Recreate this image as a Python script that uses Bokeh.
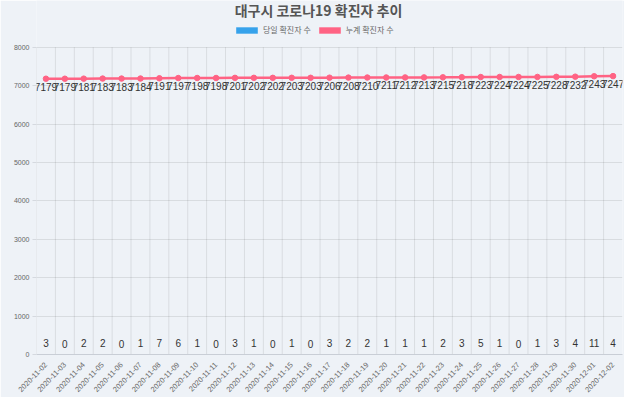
import math
from bokeh.plotting import figure
from bokeh.models import (ColumnDataSource, FixedTicker, Legend, LegendItem,
                          Label, Range1d)
from bokeh.core.properties import value
from bokeh.embed import file_html
from bokeh.resources import INLINE

# ---- data ----
dates = [
    "2020-11-02", "2020-11-03", "2020-11-04", "2020-11-05", "2020-11-06",
    "2020-11-07", "2020-11-08", "2020-11-09", "2020-11-10", "2020-11-11",
    "2020-11-12", "2020-11-13", "2020-11-14", "2020-11-15", "2020-11-16",
    "2020-11-17", "2020-11-18", "2020-11-19", "2020-11-20", "2020-11-21",
    "2020-11-22", "2020-11-23", "2020-11-24", "2020-11-25", "2020-11-26",
    "2020-11-27", "2020-11-28", "2020-11-29", "2020-11-30", "2020-12-01",
    "2020-12-02",
]
daily = [3, 0, 2, 2, 0, 1, 7, 6, 1, 0, 3, 1, 0, 1, 0, 3, 2, 2, 1, 1,
         1, 2, 3, 5, 1, 0, 1, 3, 4, 11, 4]
cumulative = [7179, 7179, 7181, 7183, 7183, 7184, 7191, 7197, 7198, 7198,
              7201, 7202, 7202, 7203, 7203, 7206, 7208, 7210, 7211, 7212,
              7213, 7215, 7218, 7223, 7224, 7224, 7225, 7228, 7232, 7243,
              7247]
y_ticks = [0, 1000, 2000, 3000, 4000, 5000, 6000, 7000, 8000]
title_text = "대구시 코로나19 확진자 추이"
series_names = ["당일 확진자 수", "누계 확진자 수"]

BG = "#eef2f7"
BLUE = "#36a2eb"
PINK = "#ff6384"
GRID = "rgba(0,0,0,0.09)"
AXIS = "#c9ced6"
KFONT = "Noto Sans CJK KR"
NFONT = "Liberation Sans"

# layout (px)
W, H = 624, 397
BL, BR, BB = 36, 2, 33
FH = H - BB            # frame height (frame starts at top of canvas)
PLOT_H = 316           # height of the 0..8000 value area
y_top = y_ticks[-1] * FH / PLOT_H

idx = list(range(len(dates)))
bounds = [i - 0.5 for i in idx]
src = ColumnDataSource(dict(
    x=idx, daily=daily, cum=cumulative,
    dl=[str(v) for v in daily], cl=[str(v) for v in cumulative],
))
gsrc = ColumnDataSource(dict(
    x=bounds, y0=[y_ticks[0]] * len(bounds), y1=[y_ticks[-1]] * len(bounds)))

p = figure(width=W, height=H, output_backend="svg", toolbar_location=None,
           title=None,
           x_range=Range1d(-0.5, len(dates) - 0.5),
           y_range=Range1d(y_ticks[0], y_top),
           min_border_left=BL, min_border_right=BR,
           min_border_top=0, min_border_bottom=BB,
           background_fill_color=BG, border_fill_color=BG,
           outline_line_color=None)

# vertical grid lines limited to the value area
p.segment(x0="x", y0="y0", x1="x", y1="y1", source=gsrc,
          line_color=GRID, line_width=1)

bars = p.vbar(x="x", top="daily", width=0.65, source=src,
              fill_color=BLUE, line_color=None)
area = p.varea(x="x", y1="cum", y2="cum", source=src, fill_color=PINK)
p.line(x="x", y="cum", source=src, line_color=PINK, line_width=2.5)
p.scatter(x="x", y="cum", source=src, size=5.5, fill_color=PINK,
          line_color=PINK)

p.text(x="x", y="cum", text="cl", source=src, text_align="center",
       text_baseline="middle", y_offset=8, text_font_size="10px",
       text_color="#333333", text_font=value(NFONT))
p.text(x="x", y="daily", text="dl", source=src, text_align="center",
       text_baseline="middle", y_offset=-11, text_font_size="10px",
       text_color="#333333", text_font=value(NFONT))

# axes
p.xaxis.ticker = FixedTicker(ticks=idx)
p.xaxis.major_label_overrides = {i: d for i, d in zip(idx, dates)}
p.xaxis.major_label_orientation = math.radians(46)
p.xaxis.major_label_text_font_size = "7.5px"
p.xaxis.major_label_text_color = "#666666"
p.xaxis.major_label_text_font = NFONT
p.xaxis.major_tick_line_color = None
p.xaxis.minor_tick_line_color = None
p.xaxis.major_label_standoff = 3
p.xaxis.axis_line_color = AXIS

p.yaxis.ticker = FixedTicker(ticks=y_ticks)
p.yaxis.major_label_text_font_size = "7px"
p.yaxis.major_label_text_color = "#666666"
p.yaxis.major_label_text_font = NFONT
p.yaxis.major_tick_in = 0
p.yaxis.major_tick_out = 4
p.yaxis.major_tick_line_color = "#d5d9df"
p.yaxis.minor_tick_line_color = None
p.yaxis.major_label_standoff = 3
p.yaxis.axis_line_color = None

p.xgrid.grid_line_color = None
p.ygrid.ticker = FixedTicker(ticks=y_ticks)
p.ygrid.grid_line_color = GRID

legend = Legend(items=[LegendItem(label=series_names[0], renderers=[bars]),
                       LegendItem(label=series_names[1], renderers=[area])],
                orientation="horizontal", location=(197, FH - 45),
                glyph_width=27, glyph_height=8, label_height=10,
                label_text_font_size="8px", label_text_color="#666666",
                label_text_font=KFONT, label_standoff=3, spacing=5,
                padding=2, margin=0, border_line_color=None,
                background_fill_alpha=0)
p.add_layout(legend, "center")

p.add_layout(Label(x=282, y=FH - 19, x_units="screen", y_units="screen",
                   text=title_text, text_align="center",
                   text_baseline="middle", text_font_size="14px",
                   text_font=KFONT, text_font_style="bold",
                   text_color="#555555"))

open("out.html", "w").write(file_html(p, INLINE))
